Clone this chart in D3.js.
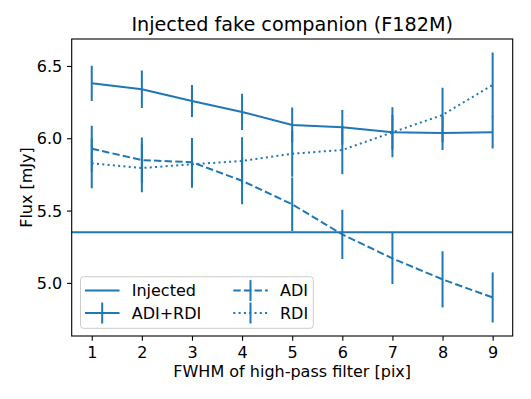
<!DOCTYPE html>
<html>
<head>
<meta charset="utf-8">
<script src="https://cdn.jsdelivr.net/npm/d3@7"></script>
<style>
  html, body { margin: 0; padding: 0; background: #fff; }
  text { font-family: "DejaVu Sans", sans-serif; fill: #000; }
</style>
</head>
<body>
<svg id="chart" width="531" height="399"></svg>
<script>
// ---- data ----
const fwhm = [1, 2, 3, 4, 5, 6, 7, 8, 9];
const injected = 5.35;
const adiRdi    = [6.380, 6.339, 6.258, 6.182, 6.092, 6.076, 6.041, 6.036, 6.041];
const adiRdiErr = [0.122, 0.129, 0.111, 0.125, 0.120, 0.120, 0.120, 0.118, 0.111];
const adi       = [5.928, 5.849, 5.834, 5.706, 5.543, 5.335, 5.169, 5.024, 4.899];
const adiErr    = [0.159, 0.157, 0.168, 0.163, 0.185, 0.170, 0.177, 0.194, 0.173];
const rdi       = [5.827, 5.794, 5.820, 5.843, 5.893, 5.919, 6.041, 6.161, 6.369];
const rdiErr    = [0.173, 0.168, 0.162, 0.164, 0.159, 0.168, 0.173, 0.189, 0.224];
const xTicks = [1, 2, 3, 4, 5, 6, 7, 8, 9];
const yTicks = [5.0, 5.5, 6.0, 6.5];
const title = "Injected fake companion (F182M)";
const xLabel = "FWHM of high-pass filter [pix]";
const yLabel = "Flux [mJy]";
const legendLabels = ["Injected", "ADI+RDI", "ADI", "RDI"];

// ---- layout ----
const color = "#1f77b4";
const L = 71.7, R = 512.7, T = 39, B = 336;
const svg = d3.select("#chart");

const series = [
  {name: "ADI+RDI", v: adiRdi, e: adiRdiErr, dash: null},
  {name: "ADI", v: adi, e: adiErr, dash: "7.4,3.2"},
  {name: "RDI", v: rdi, e: rdiErr, dash: "2,3.3"}
];

// matplotlib-like 5% margins
const xMin = d3.min(fwhm), xMax = d3.max(fwhm);
const xm = (xMax - xMin) * 0.05;
let yLo = d3.min(series, s => d3.min(s.v.map((d, i) => d - s.e[i])));
let yHi = d3.max(series, s => d3.max(s.v.map((d, i) => d + s.e[i])));
yLo = Math.min(yLo, injected); yHi = Math.max(yHi, injected);
const ym = (yHi - yLo) * 0.05;

const x = d3.scaleLinear().domain([xMin - xm, xMax + xm]).range([L, R]);
const y = d3.scaleLinear().domain([yLo - ym, yHi + ym]).range([B, T]);

const plot = svg.append("g");
plot.append("clipPath").attr("id", "clip").append("rect")
  .attr("x", L).attr("y", T).attr("width", R - L).attr("height", B - T);
const g = plot.append("g").attr("clip-path", "url(#clip)");

// injected horizontal line
g.append("line")
  .attr("x1", L).attr("x2", R)
  .attr("y1", y(injected)).attr("y2", y(injected))
  .attr("stroke", color).attr("stroke-width", 2);

const line = d3.line().x((d, i) => x(fwhm[i])).y(d => y(d));
series.forEach(s => {
  g.append("path").datum(s.v)
    .attr("d", line)
    .attr("fill", "none")
    .attr("stroke", color).attr("stroke-width", 2)
    .attr("stroke-dasharray", s.dash)
    .attr("stroke-linejoin", "round");
  g.selectAll(null).data(s.v).enter().append("line")
    .attr("x1", (d, i) => x(fwhm[i])).attr("x2", (d, i) => x(fwhm[i]))
    .attr("y1", (d, i) => y(d - s.e[i])).attr("y2", (d, i) => y(d + s.e[i]))
    .attr("stroke", color).attr("stroke-width", 2);
});

// axes
const xAxis = d3.axisBottom(x).tickValues(xTicks).tickFormat(d3.format("d")).tickSize(4.7).tickPadding(4.7);
const yAxis = d3.axisLeft(y).tickValues(yTicks).tickFormat(d3.format(".1f")).tickSize(4.7).tickPadding(4.7);

const gx = svg.append("g").attr("transform", `translate(0,${B})`).call(xAxis);
const gy = svg.append("g").attr("transform", `translate(${L},0)`).call(yAxis);
[gx, gy].forEach(a => {
  a.select(".domain").remove();
  a.selectAll(".tick line").attr("stroke", "#000").attr("stroke-width", 1.1);
  a.selectAll(".tick text").attr("font-size", 16).attr("font-family", "DejaVu Sans").attr("fill", "#000");
});
gx.selectAll(".tick text").attr("dy", null).attr("y", 21.5);
gy.selectAll(".tick text").attr("dy", "0.35em");

// spines
svg.append("rect").attr("x", L).attr("y", T).attr("width", R - L).attr("height", B - T)
  .attr("fill", "none").attr("stroke", "#000").attr("stroke-width", 1.1);

// title & labels
svg.append("text").attr("x", (L + R) / 2).attr("y", 30.5).attr("text-anchor", "middle")
  .attr("font-size", 19.2).text(title);
svg.append("text").attr("x", (L + R) / 2).attr("y", 376.7).attr("text-anchor", "middle")
  .attr("font-size", 16).text(xLabel);
svg.append("text").attr("transform", `translate(32.3,${(T + B) / 2}) rotate(-90)`)
  .attr("text-anchor", "middle").attr("font-size", 16).text(yLabel);

// legend
const lg = svg.append("g");
lg.append("rect").attr("x", 80.5).attr("y", 276.7).attr("width", 232.8).attr("height", 51.6)
  .attr("rx", 3).attr("fill", "#fff").attr("fill-opacity", 0.8)
  .attr("stroke", "#cccccc").attr("stroke-width", 1);
const entries = [
  {label: legendLabels[0], col: 0, row: 0, dash: null, err: false},
  {label: legendLabels[1], col: 0, row: 1, dash: null, err: true},
  {label: legendLabels[2], col: 1, row: 0, dash: "7.4,3.2", err: true},
  {label: legendLabels[3], col: 1, row: 1, dash: "2,3.3", err: true}
];
const colX = [85, 233.3], rowY = [290.6, 313];
entries.forEach(e => {
  const x0 = colX[e.col], yy = rowY[e.row];
  lg.append("line").attr("x1", x0).attr("x2", x0 + 34.5).attr("y1", yy).attr("y2", yy)
    .attr("stroke", color).attr("stroke-width", 2).attr("stroke-dasharray", e.dash);
  if (e.err) {
    lg.append("line").attr("x1", x0 + 17.2).attr("x2", x0 + 17.2).attr("y1", yy - 10.5).attr("y2", yy + 10.5)
      .attr("stroke", color).attr("stroke-width", 2);
  }
  lg.append("text").attr("x", x0 + 46.7).attr("y", yy + 5.8).attr("font-size", 16).text(e.label);
});
</script>
</body>
</html>
